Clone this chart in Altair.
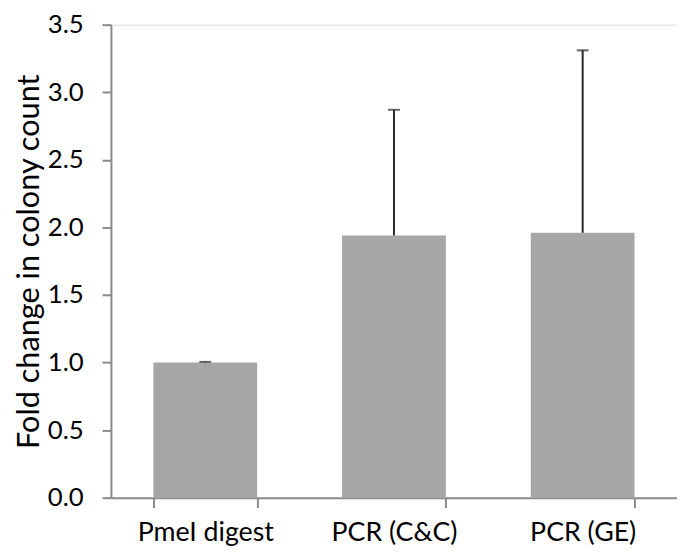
import altair as alt
import pandas as pd

categories = ["PmeI digest", "PCR (C&C)", "PCR (GE)"]
means = [1.0, 1.94, 1.96]
upper = [1.005, 2.87, 3.31]
y_ticks = [0.0, 0.5, 1.0, 1.5, 2.0, 2.5, 3.0, 3.5]

df = pd.DataFrame({"cat": categories, "mean": means, "upper": upper})

W, H = 572, 478
FONT = "Lato"
AXIS_GREY = "#8a8a8a"

x_enc = alt.X(
    "cat:N",
    sort=categories,
    title=None,
    scale=alt.Scale(paddingInner=0.45, paddingOuter=0.225),
    axis=alt.Axis(
        tickBand="extent",
        labelAngle=0,
        labelFont=FONT,
        labelFontSize=27,
        labelColor="#000000",
        labelPadding=12,
        domainColor=AXIS_GREY,
        domainWidth=2,
        tickColor=AXIS_GREY,
        tickWidth=2,
        tickSize=10,
    ),
)

y_scale = alt.Scale(domain=[0, 3.5], nice=False, zero=True)

bars = alt.Chart(df).mark_bar(color="#a6a6a6").encode(
    x=x_enc,
    y=alt.Y(
        "mean:Q",
        scale=y_scale,
        title="Fold change in colony count",
        axis=alt.Axis(
            values=y_ticks,
            format=".1f",
            grid=False,
            labelFont=FONT,
            labelFontSize=26,
            labelColor="#000000",
            labelPadding=19,
            domainColor=AXIS_GREY,
            domainWidth=2,
            tickColor=AXIS_GREY,
            tickWidth=2,
            tickSize=9,
            titleFont=FONT,
            titleFontSize=31,
            titleFontWeight="normal",
            titleColor="#000000",
            titlePadding=2,
        ),
    ),
)

err = alt.Chart(df).mark_rule(color="#262626", strokeWidth=2).encode(
    x=alt.X("cat:N", sort=categories),
    y=alt.Y("mean:Q", scale=y_scale),
    y2="upper:Q",
)

caps = alt.Chart(df).mark_tick(color="#262626", thickness=2, size=12).encode(
    x=alt.X("cat:N", sort=categories),
    y=alt.Y("upper:Q", scale=y_scale),
)

chart = (
    alt.layer(bars, err, caps)
    .properties(
        width=W,
        height=H,
        autosize=alt.AutoSizeParams(type="none"),
        padding={"left": 104, "top": 14, "right": 0, "bottom": 48},
    )
    .configure_view(stroke=None)
    .configure(background="white")
)

chart.save("out.html", embed_options={"renderer": "svg", "actions": False})
